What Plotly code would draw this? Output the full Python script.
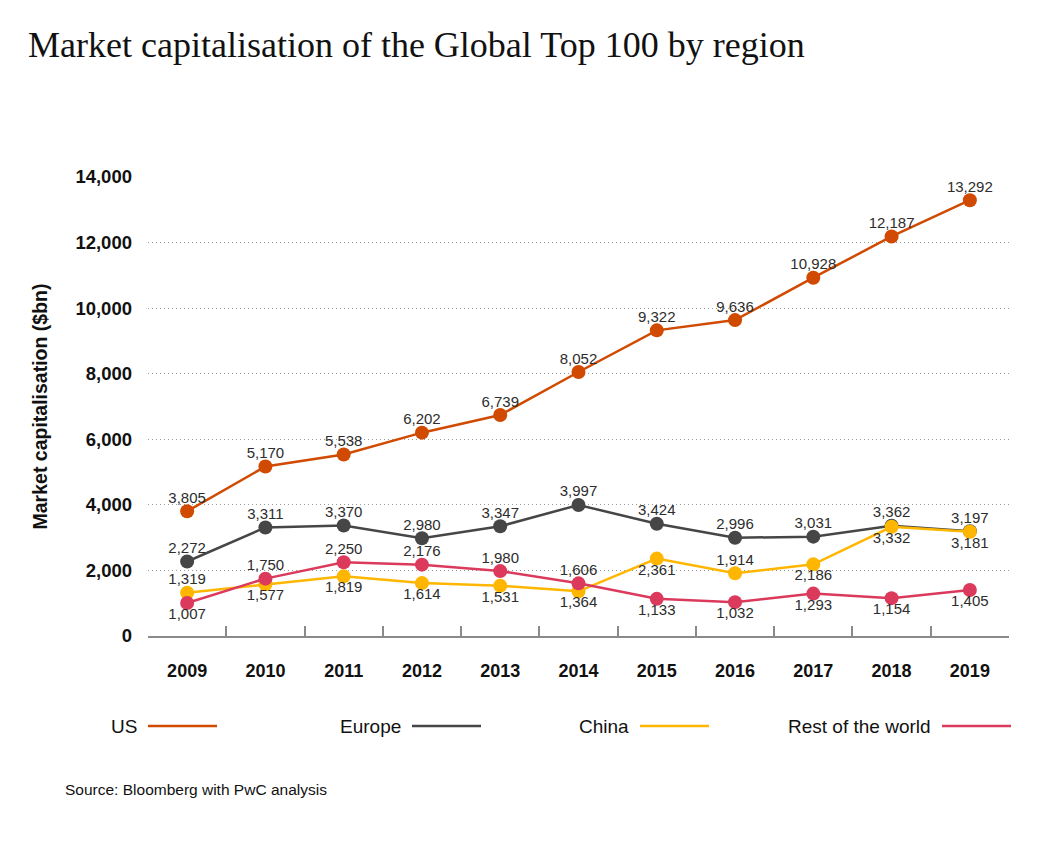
import plotly.graph_objects as go

years = ["2009", "2010", "2011", "2012", "2013", "2014", "2015", "2016", "2017", "2018", "2019"]
us = [3805, 5170, 5538, 6202, 6739, 8052, 9322, 9636, 10928, 12187, 13292]
europe = [2272, 3311, 3370, 2980, 3347, 3997, 3424, 2996, 3031, 3362, 3197]
china = [1319, 1577, 1819, 1614, 1531, 1364, 2361, 1914, 2186, 3332, 3181]
rest = [1007, 1750, 2250, 2176, 1980, 1606, 1133, 1032, 1293, 1154, 1405]

series_names = ["US", "Europe", "China", "Rest of the world"]
colors = ["#D04A02", "#464646", "#FFB600", "#DB3A5C"]

T, B = "top center", "bottom center"
positions = [
    [T] * 11,
    [T] * 11,
    [T, B, B, B, B, B, B, T, B, B, B],
    [B, T, T, T, T, T, B, B, B, B, B],
]

SANS = "Liberation Sans, Arial, sans-serif"
W, H = 1029, 833
L, R, TOP, BOT = 140, 28, 169, 205
PW, PH = W - L - R, H - TOP - BOT


def px(x):
    return (x - L) / PW


def py(y):
    return (H - BOT - y) / PH


fig = go.Figure()
for name, vals, col in zip(series_names, [us, europe, china, rest], colors):
    fig.add_trace(go.Scatter(
        x=years, y=vals, name=name, mode="lines+markers",
        line=dict(color=col, width=2.5),
        marker=dict(color=col, size=14),
        cliponaxis=False, showlegend=False,
    ))
for name, vals, pos in zip(series_names, [us, europe, china, rest], positions):
    fig.add_trace(go.Scatter(
        x=years, y=vals, name=name, mode="markers+text",
        marker=dict(size=6, color="rgba(0,0,0,0)"),
        text=[f"{v:,}" for v in vals],
        textposition=pos,
        textfont=dict(family=SANS, size=15, color="#2d2d2d"),
        cliponaxis=False, showlegend=False, hoverinfo="skip",
    ))

fig.update_layout(
    width=W, height=H,
    margin=dict(l=L, r=R, t=TOP, b=BOT),
    paper_bgcolor="white", plot_bgcolor="white",
    font=dict(family=SANS, color="#111111"),
    title=dict(
        text="Market capitalisation of the Global Top 100 by region",
        x=20 / W, xanchor="left", y=1 - 36 / H, yanchor="middle",
        font=dict(family="Liberation Serif, Times New Roman, serif", size=36, color="#111111"),
    ),
)

fig.update_xaxes(
    type="category", range=[-0.5, 10.5],
    showgrid=False, showline=True, linecolor="#8a8a8a", linewidth=2,
    ticks="inside", tickson="boundaries", ticklen=10, tickcolor="#8a8a8a", tickwidth=2,
    tickfont=dict(family=SANS, size=18, color="#111111", weight="bold"),
    ticklabelstandoff=17,
)
fig.update_yaxes(
    range=[0, 14000], dtick=2000, tickformat=",",
    showgrid=True, gridcolor="#9a9a9a", griddash="1px,3px", gridwidth=1.3,
    zeroline=False, showline=False,
    ticks="", ticklabelstandoff=15,
    tickfont=dict(family=SANS, size=18.5, color="#111111", weight="bold"),
    title=dict(text="Market capitalisation ($bn)", standoff=22,
               font=dict(family=SANS, size=19.5, color="#111111", weight="bold")),
)

# Custom legend: label followed by a line sample
legend_line_start = [140, 404, 632, 934]
ly = 718
for name, col, x0 in zip(series_names, colors, legend_line_start):
    fig.add_shape(type="line", xref="paper", yref="paper",
                  x0=px(x0), x1=px(x0 + 69), y0=py(ly), y1=py(ly),
                  line=dict(color=col, width=2.5))
    fig.add_annotation(xref="paper", yref="paper",
                       x=px(x0 - 9), y=py(ly),
                       xanchor="right", yanchor="middle", showarrow=False,
                       text=name, font=dict(family=SANS, size=19, color="#111111"))

fig.add_annotation(xref="paper", yref="paper",
                   x=px(55), y=py(781),
                   xanchor="left", yanchor="middle", showarrow=False,
                   text="Source: Bloomberg with PwC analysis",
                   font=dict(family=SANS, size=15.5, color="#111111"))

fig.write_html("out.html")
